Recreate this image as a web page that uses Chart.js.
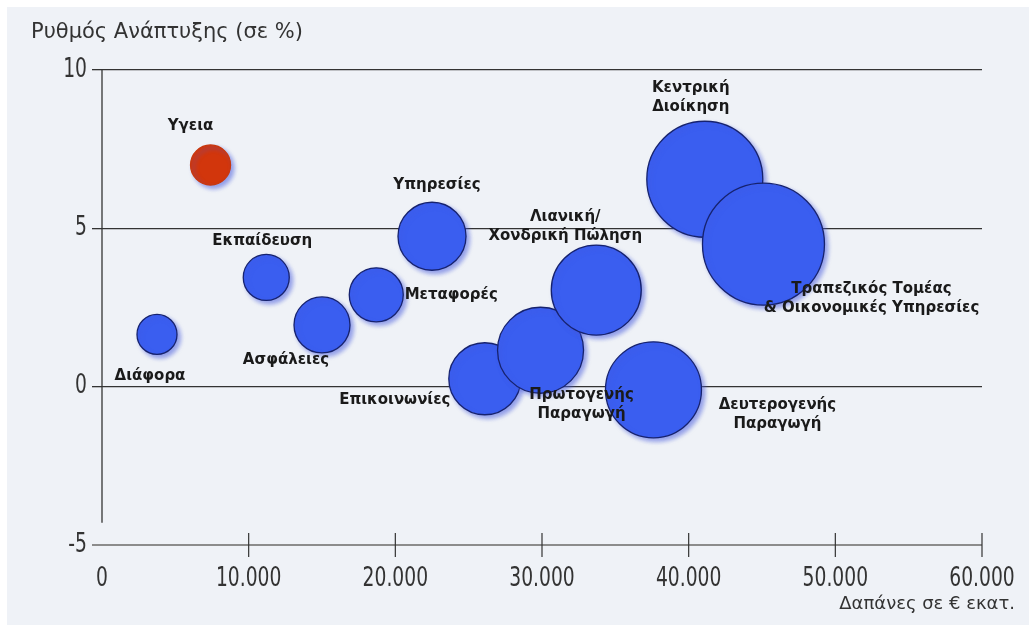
<!DOCTYPE html>
<html>
<head>
<meta charset="utf-8">
<script src="https://cdn.jsdelivr.net/npm/chart.js@4/dist/chart.umd.min.js"></script>
<style>
	html, body { margin: 0; padding: 0; background: #ffffff; }
	#wrap { position: absolute; left: 0; top: 0; width: 1029px; height: 625px; }
	#bg { position: absolute; left: 7px; top: 7px; right: 0; bottom: 0; background: #eff2f7; }
	canvas { position: absolute; left: 0; top: 0; }
</style>
</head>
<body>
<div id="wrap">
	<div id="bg"></div>
	<canvas id="bubbleChart" width="1029" height="625"></canvas>
</div>
<script>
// sectors, spending (x, € mn), growth rate (y, %), bubble size
var sectors = [
	'Υγεια', 'Διάφορα', 'Εκπαίδευση', 'Ασφάλειες', 'Μεταφορές', 'Υπηρεσίες',
	'Επικοινωνίες', 'Πρωτογενής|Παραγωγή', 'Λιανική/|Χονδρική Πώληση',
	'Δευτερογενής|Παραγωγή', 'Κεντρική|Διοίκηση', 'Τραπεζικός Τομέας|& Οικονομικές Υπηρεσίες'
]
var spending = [7400, 3750, 11200, 15000, 18700, 22500, 26100, 29900, 33700, 37600, 41100, 45100]
var growth = [7.0, 1.65, 3.45, 1.95, 2.9, 4.75, 0.25, 1.15, 3.05, -0.1, 6.55, 4.5]
var bubbleSize = [20, 20, 23, 28, 27, 34, 36, 43, 45, 48, 58, 61]
var xTicks = [0, 10000, 20000, 30000, 40000, 50000, 60000]
var yTicks = [-5, 0, 5, 10]

// label placement relative to the bubble centre (px)
var labelOffset = [
	[-20, -39], [-7, 42], [-4, -36], [-36, 35], [75, 0], [5, -51],
	[-90, 21], [41, 45], [-31, -73], [124, 15], [-14, -91], [108, 45]
]

function getBubbleData() {
	var data = []
	for (var i = 0; i < sectors.length; i++) {
		data[i] = { x: spending[i], y: growth[i], r: bubbleSize[i] }
	}
	return data
}

function fmtThousands(v) {
	return v.toLocaleString('de-DE')
}

// narrow text, like the condensed face of the original
function narrowText(c, txt, x, y, align) {
	var sx = 0.72
	c.save()
	c.scale(sx, 1)
	c.textAlign = align
	c.fillText(txt, x / sx, y)
	c.restore()
}

var shadowPlugin = {
	id: 'shadow',
	beforeDatasetsDraw: function(chart) {
		var c = chart.ctx
		c.save()
		c.shadowColor = 'rgba(70,90,220,0.55)'
		c.shadowBlur = 4
		c.shadowOffsetX = 3
		c.shadowOffsetY = 3
	},
	afterDatasetsDraw: function(chart) {
		chart.ctx.restore()
	}
}

var decorPlugin = {
	id: 'decor',
	afterDraw: function(chart) {
		var c = chart.ctx
		var xs = chart.scales.x, ys = chart.scales.y
		var area = chart.chartArea
		c.save()
		// y axis line (stops short of the bottom line)
		c.strokeStyle = '#333'
		c.lineWidth = 1.3
		c.beginPath()
		c.moveTo(area.left, ys.getPixelForValue(10))
		c.lineTo(area.left, ys.getPixelForValue(-4.3))
		c.stroke()
		// x tick marks crossing the bottom line
		c.lineWidth = 1.2
		xTicks.forEach(function(v) {
			if (v === 0) return
			var px = xs.getPixelForValue(v)
			c.beginPath()
			c.moveTo(px, area.bottom - 12)
			c.lineTo(px, area.bottom + 12)
			c.stroke()
		})
		// tick labels
		c.fillStyle = '#333'
		c.font = '26px "DejaVu Sans", sans-serif'
		c.textBaseline = 'middle'
		xTicks.forEach(function(v) {
			narrowText(c, fmtThousands(v), xs.getPixelForValue(v), area.bottom + 34, 'center')
		})
		yTicks.forEach(function(v) {
			narrowText(c, String(v), area.left - 15, ys.getPixelForValue(v), 'right')
		})
		// axis titles
		c.font = '21px "DejaVu Sans", sans-serif'
		c.textAlign = 'left'
		c.fillText('Ρυθμός Ανάπτυξης (σε %)', 31, 33)
		c.font = '18px "DejaVu Sans", sans-serif'
		c.textAlign = 'right'
		c.fillText('Δαπάνες σε € εκατ.', 1015, 604)
		// sector labels
		c.fillStyle = '#1a1a1a'
		c.font = 'bold 15px "DejaVu Sans", sans-serif'
		c.textAlign = 'center'
		for (var i = 0; i < sectors.length; i++) {
			var cx = xs.getPixelForValue(spending[i]) + labelOffset[i][0]
			var cy = ys.getPixelForValue(growth[i]) + labelOffset[i][1]
			var lines = sectors[i].split('|')
			for (var k = 0; k < lines.length; k++) {
				c.fillText(lines[k], cx, cy + k * 19)
			}
		}
		c.restore()
	}
}

function SectorBubbles() {
	var cfg = {
		type: 'bubble',
		data: {
			datasets: [
				{
					label: 'Τομείς',
					data: getBubbleData(),
					backgroundColor: function(ctx) { return ctx.dataIndex === 0 ? '#d2360c' : '#3a5ef0' },
					borderColor: function(ctx) { return ctx.dataIndex === 0 ? '#c8380f' : '#16226e' },
					borderWidth: 1.3,
					hoverRadius: 0
				}
			]
		},
		options: {
			responsive: false,
			animation: false,
			devicePixelRatio: 1,
			layout: { autoPadding: false, padding: { left: 0, top: 70, right: 47, bottom: 0 } },
			plugins: {
				legend: { display: false },
				tooltip: { enabled: false }
			},
			scales: {
				x: {
					type: 'linear',
					min: 0,
					max: 60000,
					afterBuildTicks: function(s) { s.ticks = xTicks.map(function(v) { return { value: v } }) },
					afterFit: function(s) { s.height = 80 },
					grid: { display: false },
					border: { display: false },
					ticks: { display: false }
				},
				y: {
					min: -5,
					max: 10,
					afterBuildTicks: function(s) { s.ticks = yTicks.map(function(v) { return { value: v } }) },
					afterFit: function(s) { s.width = 102 },
					border: { display: false },
					grid: {
						tickLength: 10,
						color: function(ctx) { return ctx.tick && ctx.tick.value === -5 ? '#8c8c8c' : '#333' },
						lineWidth: function(ctx) { return ctx.tick && ctx.tick.value === -5 ? 2 : 1.3 }
					},
					ticks: { display: false }
				}
			}
		},
		plugins: [shadowPlugin, decorPlugin]
	}
	var ctx = document.getElementById('bubbleChart')
	var myChart = new Chart(ctx, cfg)
}

SectorBubbles()
</script>
</body>
</html>
